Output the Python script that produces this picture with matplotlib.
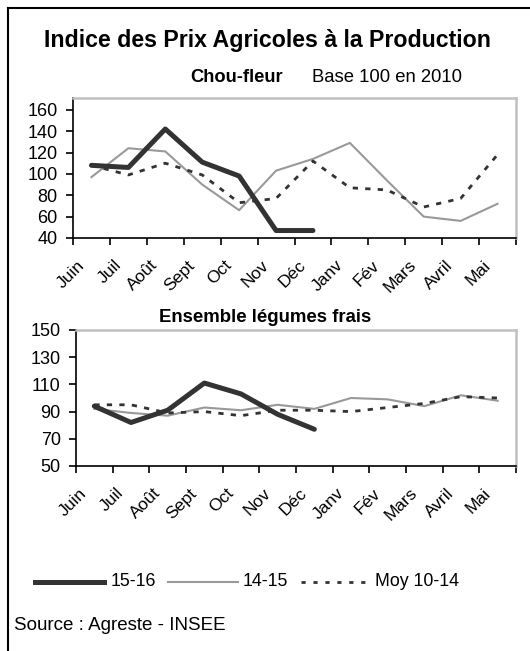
import matplotlib.pyplot as plt
import matplotlib.transforms as mtransforms
from matplotlib.lines import Line2D

plt.rcParams['font.family'] = ['Liberation Sans', 'DejaVu Sans']

months = ["Juin", "Juil", "Août", "Sept", "Oct", "Nov", "Déc",
          "Janv", "Fév", "Mars", "Avril", "Mai"]

# Chou-fleur
chou_1516 = [108, 106, 142, 111, 98, 47, 47]
chou_1415 = [97, 124, 121, 90, 66, 103, 114, 129, 94, 60, 56, 72]
chou_moy = [108, 99, 110, 99, 73, 77, 112, 87, 85, 69, 77, 118]

# Ensemble légumes frais
leg_1516 = [94, 82, 91, 111, 103, 88, 77]
leg_1415 = [92, 89, 87, 93, 91, 95, 92, 100, 99, 94, 102, 98]
leg_moy = [95, 95, 89, 90, 87, 91, 91, 90, 93, 96, 101, 100]

W, H = 530, 651
fig = plt.figure(figsize=(W / 100, H / 100), dpi=100)


def px_axes(left, top, right, bottom):
    return fig.add_axes([left / W, 1 - bottom / H, (right - left) / W, (bottom - top) / H])


def style_axes(ax, ylim, yticks):
    ax.set_xlim(-0.5, 11.5)
    ax.set_ylim(*ylim)
    ax.set_yticks(yticks)
    ax.set_xticks([i - 0.5 for i in range(13)])
    ax.set_xticklabels([])
    ax.set_xticks(range(12), minor=True)
    ax.set_xticklabels(months, minor=True, rotation=45, ha='right', va='top',
                       rotation_mode='anchor', fontsize=12.6)
    ax.tick_params(axis='x', which='minor', length=0, pad=14)
    ax.tick_params(axis='both', which='major', direction='out', length=5, width=1.2,
                   labelsize=13, pad=2)
    ax.tick_params(axis='y', pad=6)
    shift = mtransforms.ScaledTranslation(-15 / 100, 0, fig.dpi_scale_trans)
    for lab in ax.get_xticklabels(minor=True):
        lab.set_transform(lab.get_transform() + shift)
    for s in ['left', 'bottom']:
        ax.spines[s].set_color('black')
        ax.spines[s].set_linewidth(1.2)
    for s in ['top', 'right']:
        ax.spines[s].set_color('#c0c0c0')
        ax.spines[s].set_linewidth(1.8)


def draw(ax, s1516, s1415, smoy):
    ax.plot(range(len(s1415)), s1415, color='#999999', lw=1.5, label='14-15')
    ax.plot(range(len(smoy)), smoy, color='#333333', lw=2.0, linestyle=(0, (1.9, 2.6)),
            label='Moy 10-14')
    ax.plot(range(len(s1516)), s1516, color='#333333', lw=3.6, solid_capstyle='round',
            label='15-16')


ax1 = px_axes(73, 98, 516, 238)
style_axes(ax1, (40, 171), range(40, 161, 20))
draw(ax1, chou_1516, chou_1415, chou_moy)

ax2 = px_axes(76, 330, 516, 466)
style_axes(ax2, (50, 150), range(50, 151, 20))
draw(ax2, leg_1516, leg_1415, leg_moy)

fig.text(267 / W, 1 - 40 / H, "Indice des Prix Agricoles à la Production",
         ha='center', va='center', fontsize=16.7, fontweight='bold')
fig.text(190 / W, 1 - 77 / H, "Chou-fleur", ha='left', va='center',
         fontsize=13.2, fontweight='bold')
fig.text(312 / W, 1 - 77 / H, "Base 100 en 2010", ha='left', va='center', fontsize=13.3)
fig.text(265 / W, 1 - 318 / H, "Ensemble légumes frais", ha='center', va='center',
         fontsize=13.4, fontweight='bold')

# legend drawn by hand to match the layout
legend_y = 1 - 582 / H
fig.add_artist(Line2D([35 / W, 104 / W], [legend_y, legend_y], color='#333333', lw=3.6))
fig.text(111 / W, legend_y, "15-16", ha='left', va='center', fontsize=12.8)
fig.add_artist(Line2D([168 / W, 238 / W], [legend_y, legend_y], color='#999999', lw=1.5))
fig.text(243 / W, legend_y, "14-15", ha='left', va='center', fontsize=12.8)
fig.add_artist(Line2D([301 / W, 372 / W], [legend_y, legend_y], color='#333333', lw=2.0,
                      linestyle=(0, (1.5, 2.8))))
fig.text(375 / W, legend_y, "Moy 10-14", ha='left', va='center', fontsize=12.8)

fig.text(14 / W, 1 - 625 / H, "Source : Agreste - INSEE", ha='left', va='center',
         fontsize=13.5)

# outer frame (left and top only)
fig.add_artist(Line2D([8 / W, 8 / W], [0, 1 - 8 / H], color='black', lw=1.5))
fig.add_artist(Line2D([8 / W, 1], [1 - 8 / H, 1 - 8 / H], color='black', lw=1.5))

fig.savefig("out.png", dpi=100)
